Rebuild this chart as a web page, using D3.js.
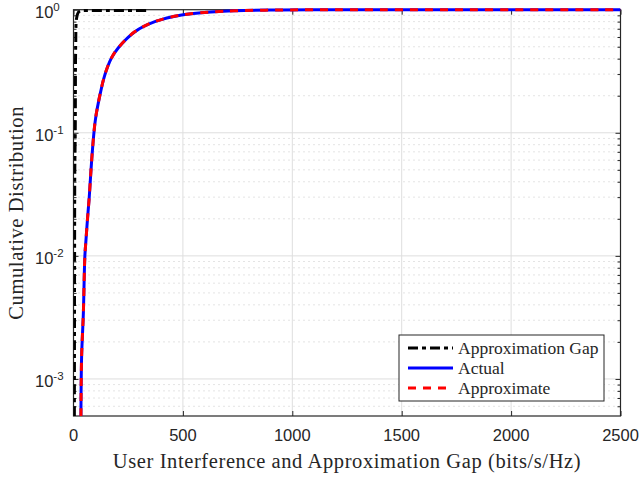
<!DOCTYPE html>
<html>
<head>
<meta charset="utf-8">
<script src="https://cdn.jsdelivr.net/npm/d3@7"></script>
<style>
  body { margin: 0; background: #fff; }
  svg { display: block; }
</style>
</head>
<body>
<div id="root"></div>
<script>
// values
const gapX = [4, 5, 6, 8, 10, 14, 22, 35, 50, 150, 336];
const gapY = [0.0005, 0.01, 0.05, 0.1, 0.5, 0.85, 0.95, 0.98, 0.985, 0.985, 0.985];

const actualX = [34, 37, 45, 52, 57, 64, 72, 80, 91, 101, 121, 143, 172, 205, 281, 372, 494, 647, 738, 900, 1100, 1500, 2500];
const actualY = [0.0005, 0.0015, 0.0034, 0.01, 0.0134, 0.02, 0.03, 0.05, 0.09, 0.131, 0.203, 0.294, 0.4, 0.491, 0.663, 0.799, 0.906, 0.963, 0.98, 0.993, 0.998, 0.9995, 1];

const approxX = [34, 37, 45, 52, 57, 64, 72, 80, 91, 101, 121, 143, 172, 205, 281, 372, 494, 647, 738, 900, 1100, 1500, 2500];
const approxY = [0.0005, 0.0015, 0.0034, 0.01, 0.0134, 0.02, 0.03, 0.05, 0.09, 0.132, 0.204, 0.295, 0.401, 0.492, 0.664, 0.8, 0.906, 0.963, 0.98, 0.993, 0.998, 0.9995, 1];

const xTicks = [0, 500, 1000, 1500, 2000, 2500];
const yTicks = [1e-3, 1e-2, 1e-1, 1];
const yTickExp = ["-3", "-2", "-1", "0"];
const legendNames = ["Approximation Gap", "Actual", "Approximate"];

const w = 641;
const h = 477;
const mLeft = 73.5, mRight = 620.5, mTop = 9.7, mBottom = 416;

const xScale = d3.scaleLinear().domain([0, 2500]).range([mLeft, mRight]);
const yScale = d3.scaleLog().domain([5e-4, 1]).range([mBottom, mTop]);

const svg = d3.select("#root")
  .append("svg")
  .attr("width", w)
  .attr("height", h);

// minor log ticks
const minor = [];
[1e-4, 1e-3, 1e-2, 1e-1].forEach(d => {
  for (let k = 2; k <= 9; k++) {
    const v = d * k;
    if (v > 5e-4 && v < 1) minor.push(v);
  }
});

// grid
svg.append("g")
  .selectAll("line")
  .data(minor)
  .enter()
  .append("line")
  .attr("x1", mLeft).attr("x2", mRight)
  .attr("y1", d => yScale(d)).attr("y2", d => yScale(d))
  .attr("stroke", "#c8c8c8")
  .attr("stroke-width", 1)
  .attr("stroke-dasharray", "1,4");

svg.append("g")
  .selectAll("line")
  .data(yTicks.slice(0, 3))
  .enter()
  .append("line")
  .attr("x1", mLeft).attr("x2", mRight)
  .attr("y1", d => yScale(d)).attr("y2", d => yScale(d))
  .attr("stroke", "#dedede");

svg.append("g")
  .selectAll("line")
  .data(xTicks.slice(1, 5))
  .enter()
  .append("line")
  .attr("y1", mTop).attr("y2", mBottom)
  .attr("x1", d => xScale(d)).attr("x2", d => xScale(d))
  .attr("stroke", "#dedede");

// axes with inner ticks on all four sides
const axisColor = "#262626";
const styleAxis = g => {
  g.select(".domain").remove();
  g.selectAll(".tick line").attr("stroke", axisColor);
};

svg.append("g")
  .attr("transform", `translate(0, ${mBottom})`)
  .call(d3.axisBottom(xScale).tickValues(xTicks).tickSize(-5).tickFormat(""))
  .call(styleAxis);
svg.append("g")
  .attr("transform", `translate(0, ${mTop})`)
  .call(d3.axisTop(xScale).tickValues(xTicks).tickSize(-5).tickFormat(""))
  .call(styleAxis);
svg.append("g")
  .attr("transform", `translate(${mLeft}, 0)`)
  .call(d3.axisLeft(yScale).tickValues(yTicks).tickSize(-5).tickFormat(""))
  .call(styleAxis);
svg.append("g")
  .attr("transform", `translate(${mLeft}, 0)`)
  .call(d3.axisLeft(yScale).tickValues(minor).tickSize(-3).tickFormat(""))
  .call(styleAxis);
svg.append("g")
  .attr("transform", `translate(${mRight}, 0)`)
  .call(d3.axisRight(yScale).tickValues(yTicks).tickSize(-5).tickFormat(""))
  .call(styleAxis);
svg.append("g")
  .attr("transform", `translate(${mRight}, 0)`)
  .call(d3.axisRight(yScale).tickValues(minor).tickSize(-3).tickFormat(""))
  .call(styleAxis);

svg.append("rect")
  .attr("x", mLeft).attr("y", mTop)
  .attr("width", mRight - mLeft).attr("height", mBottom - mTop)
  .attr("fill", "none")
  .attr("stroke", axisColor)
  .attr("stroke-width", 1.2);

// tick labels
svg.append("g")
  .selectAll("text")
  .data(xTicks)
  .enter()
  .append("text")
  .attr("x", d => xScale(d))
  .attr("y", 441)
  .attr("text-anchor", "middle")
  .attr("font-family", "Liberation Sans, Arial, sans-serif")
  .attr("font-size", 16.5)
  .attr("fill", axisColor)
  .text(d => d);

const yLab = svg.append("g")
  .selectAll("text")
  .data(yTicks)
  .enter()
  .append("text")
  .attr("x", 35)
  .attr("y", d => yScale(d) + 8)
  .attr("font-family", "Liberation Sans, Arial, sans-serif")
  .attr("font-size", 16.5)
  .attr("fill", axisColor)
  .text("10");
yLab.append("tspan")
  .attr("dy", -7)
  .attr("font-size", 11.5)
  .text((d, i) => yTickExp[i]);

// axis titles
svg.append("text")
  .attr("x", (mLeft + mRight) / 2)
  .attr("y", 468)
  .attr("text-anchor", "middle")
  .attr("font-family", "Liberation Serif, Times New Roman, serif")
  .attr("font-size", 20.5)
  .attr("letter-spacing", 0.6)
  .attr("fill", axisColor)
  .text("User Interference and Approximation Gap (bits/s/Hz)");

svg.append("text")
  .attr("transform", `translate(23, ${(mTop + mBottom) / 2}) rotate(-90)`)
  .attr("text-anchor", "middle")
  .attr("font-family", "Liberation Serif, Times New Roman, serif")
  .attr("font-size", 20.5)
  .attr("letter-spacing", 0.6)
  .attr("fill", axisColor)
  .text("Cumulative Distribution");

// curves
svg.append("clipPath")
  .attr("id", "clip")
  .append("rect")
  .attr("x", mLeft).attr("y", mTop - 2)
  .attr("width", mRight - mLeft).attr("height", mBottom - mTop + 2);

const line = d3.line()
  .x(d => xScale(d[0]))
  .y(d => yScale(d[1]))
  .curve(d3.curveCatmullRom.alpha(0.5));

const series = [
  { x: gapX, y: gapY, color: "#000000", dash: "10,4,4,4" },
  { x: actualX, y: actualY, color: "#0000ff", dash: null },
  { x: approxX, y: approxY, color: "#ff0000", dash: "8,7" }
];

const plot = svg.append("g").attr("clip-path", "url(#clip)");
plot.selectAll("path")
  .data(series)
  .enter()
  .append("path")
  .attr("d", s => line(s.x.map((v, i) => [v, s.y[i]])))
  .attr("fill", "none")
  .attr("stroke", s => s.color)
  .attr("stroke-width", 3)
  .attr("stroke-dasharray", s => s.dash);

// legend
const legendGroup = svg.append("g");
legendGroup.append("rect")
  .attr("x", 399).attr("y", 335)
  .attr("width", 205).attr("height", 66)
  .attr("fill", "#fff")
  .attr("stroke", axisColor)
  .attr("stroke-width", 1);

legendGroup.selectAll("line")
  .data(series)
  .enter()
  .append("line")
  .attr("x1", 408).attr("x2", 453)
  .attr("y1", (d, i) => 348 + 20 * i).attr("y2", (d, i) => 348 + 20 * i)
  .attr("stroke", d => d.color)
  .attr("stroke-width", 3)
  .attr("stroke-dasharray", d => d.dash);

legendGroup.selectAll("text")
  .data(legendNames)
  .enter()
  .append("text")
  .attr("x", 458)
  .attr("y", (d, i) => 354 + 20 * i)
  .attr("font-family", "Liberation Serif, Times New Roman, serif")
  .attr("font-size", 17.5)
  .attr("fill", axisColor)
  .text(d => d);
</script>
</body>
</html>
